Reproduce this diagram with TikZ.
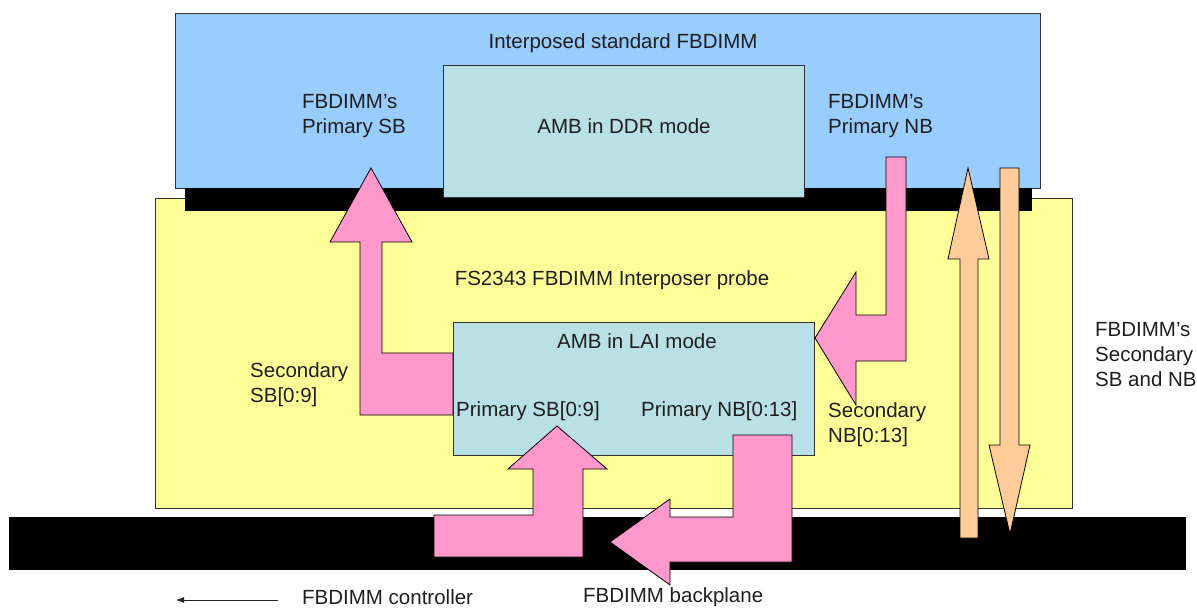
\documentclass[tikz,border=0pt]{standalone}
\usepackage{fontspec}
\usetikzlibrary{arrows.meta}
\setmainfont{Liberation Sans}
\definecolor{dimmblue}{RGB}{153,204,255}
\definecolor{probeyellow}{RGB}{255,255,153}
\definecolor{ambteal}{RGB}{185,224,228}
\definecolor{sigpink}{RGB}{255,153,204}
\definecolor{sigorange}{RGB}{255,204,153}
\definecolor{txt}{RGB}{30,30,30}
\begin{document}
\begin{tikzpicture}[x=1pt,y=-1pt,
  panel/.style={draw=black!80,line width=0.8pt},
  bar/.style={fill=black,draw=black},
  blockarrow/.style={draw=black,line width=0.8pt,line join=miter},
  lbl/.style={font=\fontsize{20.5}{25}\selectfont,text=txt,inner sep=0pt,align=left},
  lblc/.style={font=\fontsize{20.5}{25}\selectfont,text=txt,inner sep=0pt,align=center}]
\useasboundingbox (0,0) rectangle (1197,608);
% probe board
\path[panel,fill=probeyellow] (155,198) rectangle (1072,508);
% interposed DIMM
\path[panel,fill=dimmblue] (175,13) rectangle (1040,188);
\path[bar] (185,188) rectangle (1031,210);
\path[panel,fill=ambteal] (443,65) rectangle (804,197);
% backplane
\path[bar] (9,517) rectangle (1185,569);
% AMB in LAI mode
\path[panel,fill=ambteal] (453,322) rectangle (814,455);
% pink arrows
\path[blockarrow,fill=sigpink] (360,242) -- (360,415) -- (453,415) -- (453,353) -- (382,353) -- (382,242) -- (412,242) -- (371,168) -- (330,242) -- cycle;
\path[blockarrow,fill=sigpink] (886,157) -- (906,157) -- (906,361) -- (856,361) -- (856,405) -- (815,338) -- (856,272) -- (856,315) -- (886,315) -- cycle;
\path[blockarrow,fill=sigpink] (434,515) -- (533,515) -- (533,469) -- (508,469) -- (557,426) -- (607,469) -- (583,469) -- (583,557) -- (434,557) -- cycle;
\path[blockarrow,fill=sigpink] (733,435) -- (792,435) -- (792,562) -- (670,562) -- (670,585) -- (610,542) -- (670,499) -- (670,517) -- (733,517) -- cycle;
% orange arrows
\path[blockarrow,fill=sigorange] (960,538) -- (960,259) -- (948,259) -- (968,168) -- (989,259) -- (978,259) -- (978,538) -- cycle;
\path[blockarrow,fill=sigorange] (1000,168) -- (1019,168) -- (1019,445) -- (1030,445) -- (1010,534) -- (989,445) -- (1000,445) -- cycle;
% labels
\node[lblc] (tdimm) at (623,43) {Interposed standard FBDIMM};
\node[lbl,anchor=west] (tpsb) at (302,116) {FBDIMM’s\\Primary SB};
\node[lblc] (tddr) at (624,126) {AMB in DDR mode};
\node[lbl,anchor=west] (tpnb) at (828,116) {FBDIMM’s\\Primary NB};
\node[lblc] (tprobe) at (612,280) {FS2343 FBDIMM Interposer probe};
\node[lblc] (tlai) at (637,341) {AMB in LAI mode};
\node[lbl,anchor=west] (tssb) at (250,385) {Secondary\\SB[0:9]};
\node[lbl,anchor=west] (tprsb) at (456,411) {Primary SB[0:9]};
\node[lbl,anchor=west] (tprnb) at (641,411) {Primary NB[0:13]};
\node[lbl,anchor=west] (tsnb) at (828,425) {Secondary\\NB[0:13]};
\node[lbl,anchor=west] (tsec) at (1095,355) {FBDIMM’s\\Secondary\\SB and NB};
\node[lbl,anchor=west] (tctrl) at (302,597) {FBDIMM controller};
\node[lbl,anchor=west] (tback) at (583,597) {FBDIMM backplane};
\coordinate (ctrlfrom) at (278,600);
\coordinate (ctrlto) at (176,600);
\draw[-{Latex[length=8pt,width=6pt]},line width=0.8pt,draw=black!85] (ctrlfrom) -- (ctrlto);
\end{tikzpicture}
\end{document}
